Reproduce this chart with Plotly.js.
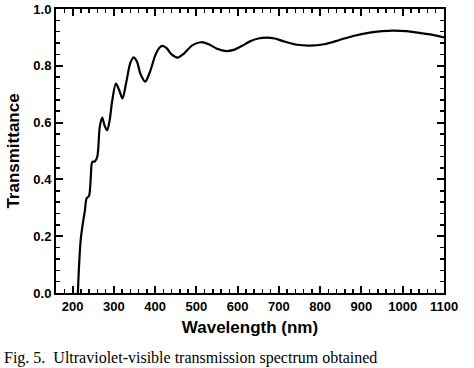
<!DOCTYPE html>
<html>
<head>
<meta charset="utf-8">
<script src="https://cdn.plot.ly/plotly-3.0.1.min.js"></script>
<style>
  html, body { margin: 0; padding: 0; background: #fff; }
  #chart { width: 474px; height: 368px; }
</style>
</head>
<body>
<div id="chart"></div>
<script>
const wavelength = [213, 216, 220, 224, 230, 234, 240, 244, 248, 254, 260, 266, 272, 278, 284, 290, 296, 305, 313, 321, 330, 340, 348, 356, 365, 376, 388, 400, 410, 418, 428, 440, 455, 470, 490, 511, 530, 550, 573, 590, 610, 630, 650, 670, 690, 710, 740, 775, 810, 847, 880, 920, 950, 976, 1010, 1040, 1070, 1100];
const transmittance = [0.0, 0.10, 0.19, 0.235, 0.29, 0.333, 0.342, 0.40, 0.462, 0.463, 0.48, 0.585, 0.618, 0.588, 0.573, 0.608, 0.675, 0.737, 0.715, 0.685, 0.74, 0.81, 0.830, 0.815, 0.77, 0.744, 0.78, 0.835, 0.863, 0.870, 0.862, 0.840, 0.829, 0.843, 0.872, 0.883, 0.876, 0.860, 0.852, 0.856, 0.870, 0.886, 0.896, 0.899, 0.896, 0.887, 0.875, 0.871, 0.876, 0.891, 0.905, 0.917, 0.922, 0.924, 0.922, 0.916, 0.910, 0.900];

const xTickVals = [200, 300, 400, 500, 600, 700, 800, 900, 1000, 1100];
const yTickVals = [0.0, 0.2, 0.4, 0.6, 0.8, 1.0];
const yTickText = ['0.0', '0.2', '0.4', '0.6', '0.8', '1.0'];
const xTitle = 'Wavelength (nm)';
const yTitle = 'Transmittance';
const caption = 'Fig. 5.  Ultraviolet-visible transmission spectrum obtained';

const font = 'Liberation Sans, Arial, sans-serif';

const trace = {
  x: wavelength,
  y: transmittance,
  type: 'scatter',
  mode: 'lines',
  line: { color: '#000', width: 2.2, shape: 'spline', smoothing: 0.8 },
  hoverinfo: 'skip'
};

const axisCommon = {
  showgrid: false,
  zeroline: false,
  showline: true,
  linecolor: '#000',
  linewidth: 2,
  mirror: 'allticks',
  ticks: 'inside',
  ticklen: 7,
  tickwidth: 2,
  tickcolor: '#000',
  tickfont: { family: font, size: 13, color: '#000', weight: 700 }
};

const layout = {
  width: 474,
  height: 368,
  margin: { l: 56, r: 30, t: 9, b: 75 },
  paper_bgcolor: '#fff',
  plot_bgcolor: '#fff',
  showlegend: false,
  xaxis: Object.assign({}, axisCommon, {
    range: [160, 1100],
    tickmode: 'array',
    tickvals: xTickVals,
    ticktext: xTickVals.map(String),
    minor: { dtick: 20, tick0: 0, ticks: 'inside', ticklen: 4, tickwidth: 1.5, tickcolor: '#000' },
    title: { text: xTitle, font: { family: font, size: 17, color: '#000', weight: 700 }, standoff: 9 }
  }),
  yaxis: Object.assign({}, axisCommon, {
    range: [0, 1.0],
    tickmode: 'array',
    tickvals: yTickVals,
    ticktext: yTickText,
    minor: { dtick: 0.04, tick0: 0, ticks: 'inside', ticklen: 4, tickwidth: 1.5, tickcolor: '#000' },
    title: { text: yTitle, font: { family: font, size: 17, color: '#000', weight: 700 }, standoff: 9 }
  }),
  annotations: [{
    text: caption,
    xref: 'paper', yref: 'paper',
    x: -0.14, y: -0.19,
    xanchor: 'left', yanchor: 'top',
    showarrow: false,
    font: { family: 'Liberation Serif, Times New Roman, serif', size: 16, color: '#000' }
  }]
};

Plotly.newPlot('chart', [trace], layout, { displayModeBar: false, staticPlot: true });
</script>
</body>
</html>
